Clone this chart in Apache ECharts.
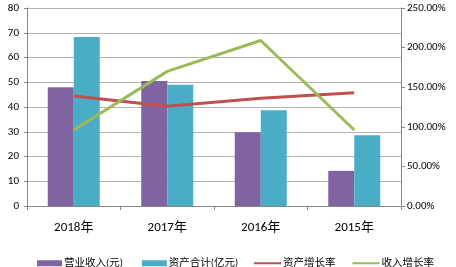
<!DOCTYPE html>
<html>
<head>
<meta charset="utf-8">
<script src="https://cdn.jsdelivr.net/npm/echarts@6/dist/echarts.min.js"></script>
<style>
html,body{margin:0;padding:0;background:#fff;}
#chart{width:456px;height:267px;}
</style>
</head>
<body>
<div id="chart"></div>
<script>
var years = ['2018年', '2017年', '2016年', '2015年'];
var revenue = [48, 50.5, 29.8, 14.2];        // 营业收入(元)
var assets = [68.3, 49, 38.7, 28.6];         // 资产合计(亿元)
var asset_growth = [1.39, 1.26, 1.36, 1.43]; // 资产增长率
var revenue_growth = [0.96, 1.70, 2.09, 0.96]; // 收入增长率
var left_ticks = [0, 80, 10];
var right_ticks = [0, 2.5, 0.5];

var axis_color = '#868686';
var grid_color = '#b3b3b3';
var font = 'Calibri, "Liberation Sans", "Noto Sans CJK SC", sans-serif';

var chart = echarts.init(document.getElementById('chart'));
var option = {
    animation: false,
    textStyle: {fontFamily: font, color: '#000'},
    grid: {left: 27, right: 55, top: 8, bottom: 61},
    legend: [{
        data: ['营业收入(元)', '资产合计(亿元)'],
        left: 32,
        top: 253,
        icon: 'rect',
        itemWidth: 25,
        itemHeight: 6,
        itemGap: 19,
        textStyle: {fontSize: 10.5, color: '#000', fontFamily: font, padding: [0, 0, 0, -3]}
    }, {
        data: ['资产增长率', '收入增长率'],
        left: 249,
        top: 253,
        icon: 'rect',
        itemWidth: 27,
        itemHeight: 2,
        itemGap: 17,
        textStyle: {fontSize: 10.5, color: '#000', fontFamily: font, padding: [0, 0, 0, -3]}
    }],
    xAxis: {
        type: 'category',
        data: years,
        axisLine: {lineStyle: {color: axis_color}},
        axisTick: {show: true, length: 4, lineStyle: {color: axis_color}},
        axisLabel: {fontSize: 13, color: '#000', margin: 15}
    },
    yAxis: [{
        type: 'value',
        min: left_ticks[0],
        max: left_ticks[1],
        interval: left_ticks[2],
        axisLine: {show: true, lineStyle: {color: axis_color}},
        axisTick: {show: true, length: 3, lineStyle: {color: axis_color}},
        splitLine: {lineStyle: {color: grid_color}},
        axisLabel: {fontSize: 11, color: '#000', margin: 8}
    }, {
        type: 'value',
        min: right_ticks[0],
        max: right_ticks[1],
        interval: right_ticks[2],
        axisLine: {show: true, lineStyle: {color: axis_color}},
        axisTick: {show: true, length: 4, lineStyle: {color: axis_color}},
        splitLine: {show: false},
        axisLabel: {
            fontSize: 11, color: '#000', margin: 6,
            formatter: function(v){ return (v * 100).toFixed(2) + '%'; }
        }
    }],
    series: [
        {
            name: '营业收入(元)',
            type: 'bar',
            barWidth: 26,
            barGap: '0%',
            itemStyle: {color: '#8064A2'},
            data: revenue
        },
        {
            name: '资产合计(亿元)',
            type: 'bar',
            barWidth: 26,
            barGap: '0%',
            itemStyle: {color: '#4BACC6'},
            data: assets
        },
        {
            name: '资产增长率',
            type: 'line',
            yAxisIndex: 1,
            symbol: 'none',
            lineStyle: {color: '#C0504D', width: 3},
            itemStyle: {color: '#C0504D'},
            data: asset_growth
        },
        {
            name: '收入增长率',
            type: 'line',
            yAxisIndex: 1,
            symbol: 'none',
            lineStyle: {color: '#9BBB59', width: 3},
            itemStyle: {color: '#9BBB59'},
            data: revenue_growth
        }
    ]
};
chart.setOption(option);
</script>
</body>
</html>
